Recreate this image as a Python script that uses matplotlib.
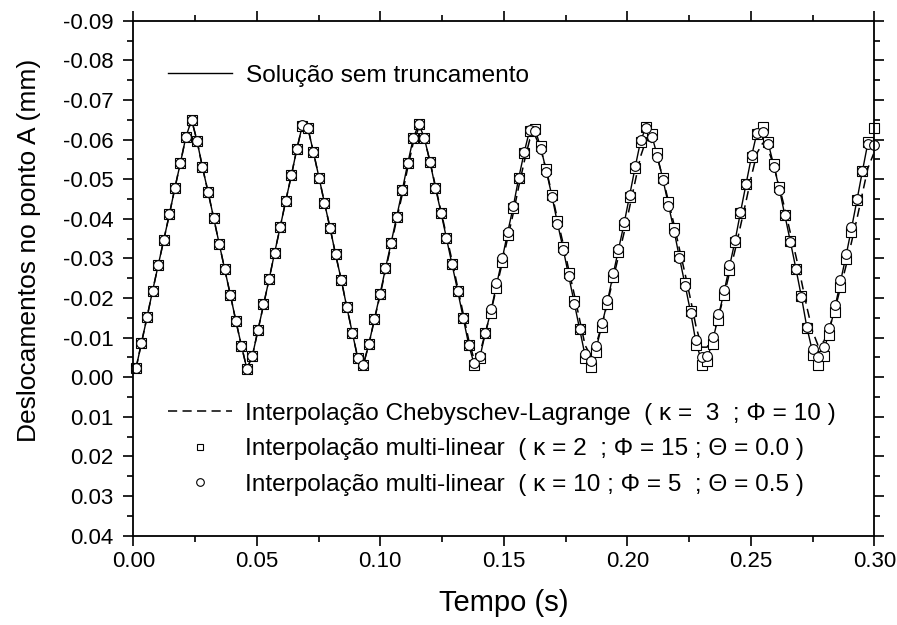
import matplotlib.pyplot as plt
from matplotlib.lines import Line2D
from matplotlib.ticker import MultipleLocator, FormatStrFormatter

plt.rcParams['font.family'] = ['Liberation Sans', 'DejaVu Sans']
plt.rcParams['axes.unicode_minus'] = False

# tempo (s) dos pontos amostrados
tempo = [
    0.0011, 0.0033, 0.0056, 0.0078, 0.0101, 0.0123, 0.0146, 0.0168, 0.0191, 0.0213,
    0.0236, 0.0258, 0.0280, 0.0303, 0.0325, 0.0348, 0.0370, 0.0393, 0.0415, 0.0438,
    0.0460, 0.0482, 0.0505, 0.0527, 0.0550, 0.0572, 0.0595, 0.0617, 0.0640, 0.0662,
    0.0685, 0.0707, 0.0729, 0.0752, 0.0774, 0.0797, 0.0819, 0.0842, 0.0864, 0.0887,
    0.0909, 0.0931, 0.0954, 0.0976, 0.0999, 0.1021, 0.1044, 0.1066, 0.1089, 0.1111,
    0.1134, 0.1156, 0.1178, 0.1201, 0.1223, 0.1246, 0.1268, 0.1291, 0.1313, 0.1336,
    0.1358, 0.1380, 0.1403, 0.1425, 0.1448, 0.1470, 0.1493, 0.1515, 0.1538, 0.1560,
    0.1583, 0.1605, 0.1627, 0.1650, 0.1672, 0.1695, 0.1717, 0.1740, 0.1762, 0.1785,
    0.1807, 0.1829, 0.1852, 0.1874, 0.1897, 0.1919, 0.1942, 0.1964, 0.1987, 0.2009,
    0.2032, 0.2054, 0.2076, 0.2099, 0.2121, 0.2144, 0.2166, 0.2189, 0.2211, 0.2234,
    0.2256, 0.2278, 0.2301, 0.2323, 0.2346, 0.2368, 0.2391, 0.2413, 0.2436, 0.2458,
    0.2481, 0.2503, 0.2525, 0.2548, 0.2570, 0.2593, 0.2615, 0.2638, 0.2660, 0.2683,
    0.2705, 0.2727, 0.2750, 0.2772, 0.2795, 0.2817, 0.2840, 0.2862, 0.2885, 0.2907,
    0.2930, 0.2952, 0.2974, 0.2997,
]

# solucao sem truncamento (mm)
sem_trunc = [
    -0.0023, -0.0086, -0.0153, -0.0218, -0.0283, -0.0346, -0.0411, -0.0477, -0.0542, -0.0607,
    -0.0650, -0.0597, -0.0530, -0.0467, -0.0403, -0.0337, -0.0273, -0.0208, -0.0143, -0.0079,
    -0.0021, -0.0054, -0.0120, -0.0184, -0.0248, -0.0314, -0.0380, -0.0445, -0.0510, -0.0576,
    -0.0637, -0.0629, -0.0569, -0.0504, -0.0440, -0.0376, -0.0310, -0.0246, -0.0178, -0.0111,
    -0.0048, -0.0031, -0.0084, -0.0147, -0.0210, -0.0275, -0.0340, -0.0405, -0.0472, -0.0540,
    -0.0605, -0.0639, -0.0605, -0.0544, -0.0479, -0.0415, -0.0351, -0.0285, -0.0219, -0.0149,
    -0.0082, -0.0033, -0.0050, -0.0111, -0.0168, -0.0232, -0.0297, -0.0364, -0.0430, -0.0502,
    -0.0569, -0.0625, -0.0625, -0.0579, -0.0521, -0.0457, -0.0390, -0.0325, -0.0258, -0.0189,
    -0.0121, -0.0055, -0.0035, -0.0072, -0.0132, -0.0190, -0.0258, -0.0321, -0.0388, -0.0458,
    -0.0531, -0.0597, -0.0632, -0.0611, -0.0560, -0.0500, -0.0437, -0.0371, -0.0302, -0.0233,
    -0.0165, -0.0088, -0.0040, -0.0046, -0.0093, -0.0152, -0.0214, -0.0278, -0.0344, -0.0416,
    -0.0488, -0.0558, -0.0618, -0.0626, -0.0592, -0.0535, -0.0477, -0.0409, -0.0343, -0.0273,
    -0.0203, -0.0126, -0.0064, -0.0040, -0.0065, -0.0115, -0.0175, -0.0238, -0.0305, -0.0374,
    -0.0448, -0.0521, -0.0592, -0.0605,
]

# interpolacao Chebyschev-Lagrange (kappa=3, Phi=10)
cheb_lagr = [
    -0.0023, -0.0086, -0.0153, -0.0218, -0.0283, -0.0346, -0.0411, -0.0477, -0.0542, -0.0607,
    -0.0650, -0.0597, -0.0530, -0.0467, -0.0403, -0.0337, -0.0273, -0.0208, -0.0143, -0.0079,
    -0.0021, -0.0054, -0.0120, -0.0184, -0.0248, -0.0314, -0.0380, -0.0445, -0.0510, -0.0576,
    -0.0637, -0.0629, -0.0569, -0.0504, -0.0440, -0.0376, -0.0310, -0.0246, -0.0178, -0.0111,
    -0.0048, -0.0031, -0.0084, -0.0145, -0.0207, -0.0270, -0.0334, -0.0398, -0.0462, -0.0529,
    -0.0594, -0.0630, -0.0603, -0.0546, -0.0483, -0.0419, -0.0357, -0.0293, -0.0228, -0.0160,
    -0.0094, -0.0044, -0.0061, -0.0111, -0.0166, -0.0225, -0.0287, -0.0350, -0.0413, -0.0480,
    -0.0545, -0.0600, -0.0610, -0.0575, -0.0523, -0.0463, -0.0400, -0.0338, -0.0274, -0.0210,
    -0.0145, -0.0081, -0.0054, -0.0083, -0.0132, -0.0186, -0.0246, -0.0305, -0.0365, -0.0429,
    -0.0495, -0.0558, -0.0599, -0.0594, -0.0556, -0.0503, -0.0446, -0.0386, -0.0324, -0.0261,
    -0.0197, -0.0129, -0.0076, -0.0076, -0.0103, -0.0151, -0.0205, -0.0261, -0.0320, -0.0381,
    -0.0445, -0.0509, -0.0566, -0.0591, -0.0576, -0.0534, -0.0482, -0.0425, -0.0365, -0.0305,
    -0.0243, -0.0177, -0.0116, -0.0081, -0.0090, -0.0122, -0.0170, -0.0224, -0.0280, -0.0339,
    -0.0401, -0.0465, -0.0528, -0.0564,
]

# interpolacao multi-linear (kappa=2, Phi=15, Theta=0.0)
multi_k2 = [
    -0.0023, -0.0086, -0.0153, -0.0218, -0.0283, -0.0346, -0.0411, -0.0477, -0.0542, -0.0607,
    -0.0650, -0.0597, -0.0530, -0.0467, -0.0403, -0.0337, -0.0273, -0.0208, -0.0143, -0.0079,
    -0.0021, -0.0054, -0.0120, -0.0184, -0.0248, -0.0314, -0.0380, -0.0445, -0.0510, -0.0576,
    -0.0634, -0.0629, -0.0569, -0.0504, -0.0440, -0.0376, -0.0310, -0.0246, -0.0178, -0.0111,
    -0.0048, -0.0031, -0.0084, -0.0147, -0.0210, -0.0275, -0.0340, -0.0405, -0.0472, -0.0540,
    -0.0605, -0.0639, -0.0605, -0.0544, -0.0479, -0.0415, -0.0351, -0.0285, -0.0219, -0.0149,
    -0.0082, -0.0031, -0.0048, -0.0111, -0.0162, -0.0225, -0.0292, -0.0360, -0.0428, -0.0502,
    -0.0566, -0.0622, -0.0628, -0.0583, -0.0525, -0.0461, -0.0394, -0.0329, -0.0262, -0.0193,
    -0.0121, -0.0048, -0.0025, -0.0065, -0.0126, -0.0185, -0.0254, -0.0317, -0.0384, -0.0455,
    -0.0528, -0.0595, -0.0633, -0.0615, -0.0565, -0.0504, -0.0443, -0.0376, -0.0305, -0.0237,
    -0.0168, -0.0082, -0.0031, -0.0040, -0.0085, -0.0145, -0.0208, -0.0272, -0.0342, -0.0414,
    -0.0487, -0.0556, -0.0615, -0.0632, -0.0594, -0.0539, -0.0480, -0.0409, -0.0345, -0.0273,
    -0.0205, -0.0124, -0.0057, -0.0031, -0.0054, -0.0107, -0.0166, -0.0229, -0.0298, -0.0368,
    -0.0447, -0.0521, -0.0594, -0.0630,
]

# interpolacao multi-linear (kappa=10, Phi=5, Theta=0.5)
multi_k10 = [
    -0.0023, -0.0086, -0.0153, -0.0218, -0.0283, -0.0346, -0.0411, -0.0477, -0.0542, -0.0607,
    -0.0650, -0.0597, -0.0530, -0.0467, -0.0403, -0.0337, -0.0273, -0.0208, -0.0143, -0.0079,
    -0.0021, -0.0054, -0.0120, -0.0184, -0.0248, -0.0314, -0.0380, -0.0445, -0.0510, -0.0576,
    -0.0638, -0.0629, -0.0569, -0.0504, -0.0440, -0.0376, -0.0310, -0.0246, -0.0178, -0.0111,
    -0.0048, -0.0031, -0.0084, -0.0147, -0.0210, -0.0275, -0.0340, -0.0405, -0.0472, -0.0540,
    -0.0605, -0.0639, -0.0605, -0.0544, -0.0479, -0.0415, -0.0351, -0.0285, -0.0219, -0.0149,
    -0.0082, -0.0035, -0.0054, -0.0111, -0.0172, -0.0237, -0.0300, -0.0367, -0.0432, -0.0502,
    -0.0569, -0.0625, -0.0623, -0.0576, -0.0518, -0.0454, -0.0387, -0.0322, -0.0255, -0.0186,
    -0.0121, -0.0060, -0.0040, -0.0078, -0.0138, -0.0195, -0.0262, -0.0325, -0.0392, -0.0460,
    -0.0533, -0.0598, -0.0630, -0.0607, -0.0555, -0.0497, -0.0432, -0.0367, -0.0300, -0.0230,
    -0.0162, -0.0094, -0.0050, -0.0054, -0.0101, -0.0160, -0.0220, -0.0283, -0.0346, -0.0418,
    -0.0489, -0.0560, -0.0618, -0.0619, -0.0590, -0.0531, -0.0474, -0.0409, -0.0342, -0.0273,
    -0.0202, -0.0128, -0.0071, -0.0050, -0.0076, -0.0124, -0.0183, -0.0246, -0.0311, -0.0380,
    -0.0449, -0.0521, -0.0590, -0.0587,
]

fig = plt.figure(figsize=(8.97, 6.25), dpi=100)
ax = fig.add_axes([0.1486, 0.1429, 0.8261, 0.8238])

ax.plot(tempo, cheb_lagr, color='black', lw=1.1, dashes=(6, 3.5))
ax.plot(tempo, sem_trunc, color='black', lw=1.0)
ax.plot(tempo, multi_k2, ls='none', marker='s', ms=6.5, mfc='white', mec='black',
        mew=0.8, clip_on=False)
ax.plot(tempo, multi_k10, ls='none', marker='o', ms=7, mfc='white', mec='black',
        mew=0.8, clip_on=False)

ax.set_xlim(0, 0.30)
ax.set_ylim(0.04, -0.09)
ax.xaxis.set_major_locator(MultipleLocator(0.05))
ax.xaxis.set_minor_locator(MultipleLocator(0.025))
ax.yaxis.set_major_locator(MultipleLocator(0.01))
ax.yaxis.set_minor_locator(MultipleLocator(0.005))
ax.xaxis.set_major_formatter(FormatStrFormatter('%.2f'))
ax.yaxis.set_major_formatter(FormatStrFormatter('%.2f'))
ax.tick_params(which='both', direction='out', top=True, right=True, width=1.2,
               labelsize=16, colors='black')
ax.tick_params(which='major', length=7)
ax.tick_params(which='minor', length=4)
ax.tick_params(axis='x', which='major', pad=4)
ax.tick_params(axis='y', which='major', pad=7)
for s in ax.spines.values():
    s.set_linewidth(1.3)

ax.set_xlabel('Tempo (s)', fontsize=21, labelpad=12)
ax.set_ylabel('Deslocamentos no ponto A (mm)', fontsize=19)
ax.yaxis.set_label_coords(-0.124, 0.555)

# legendas
h1 = [Line2D([], [], color='black', lw=1.0)]
leg1 = ax.legend(h1, ['Solução sem truncamento'], loc='center left',
                 bbox_to_anchor=(0.047, 0.893), frameon=False, fontsize=17.6,
                 handlelength=2.6, handletextpad=0.6, borderpad=0, borderaxespad=0)
ax.add_artist(leg1)

h2 = [Line2D([], [], color='black', lw=1.1, dashes=(6, 3.5)),
      Line2D([], [], ls='none', marker='s', ms=5, mfc='white', mec='black', mew=0.8),
      Line2D([], [], ls='none', marker='o', ms=5.5, mfc='white', mec='black', mew=0.8)]
lab2 = ['Interpolação Chebyschev-Lagrange  ( κ =  3  ; Φ = 10 )',
        'Interpolação multi-linear  ( κ = 2  ; Φ = 15 ; Θ = 0.0 )',
        'Interpolação multi-linear  ( κ = 10 ; Φ = 5  ; Θ = 0.5 )']
ax.legend(h2, lab2, loc='center left', bbox_to_anchor=(0.047, 0.168), frameon=False,
          fontsize=17.6, handlelength=2.6, handletextpad=0.55, labelspacing=0.55,
          borderpad=0, borderaxespad=0)

fig.savefig('out.png', dpi=100)
